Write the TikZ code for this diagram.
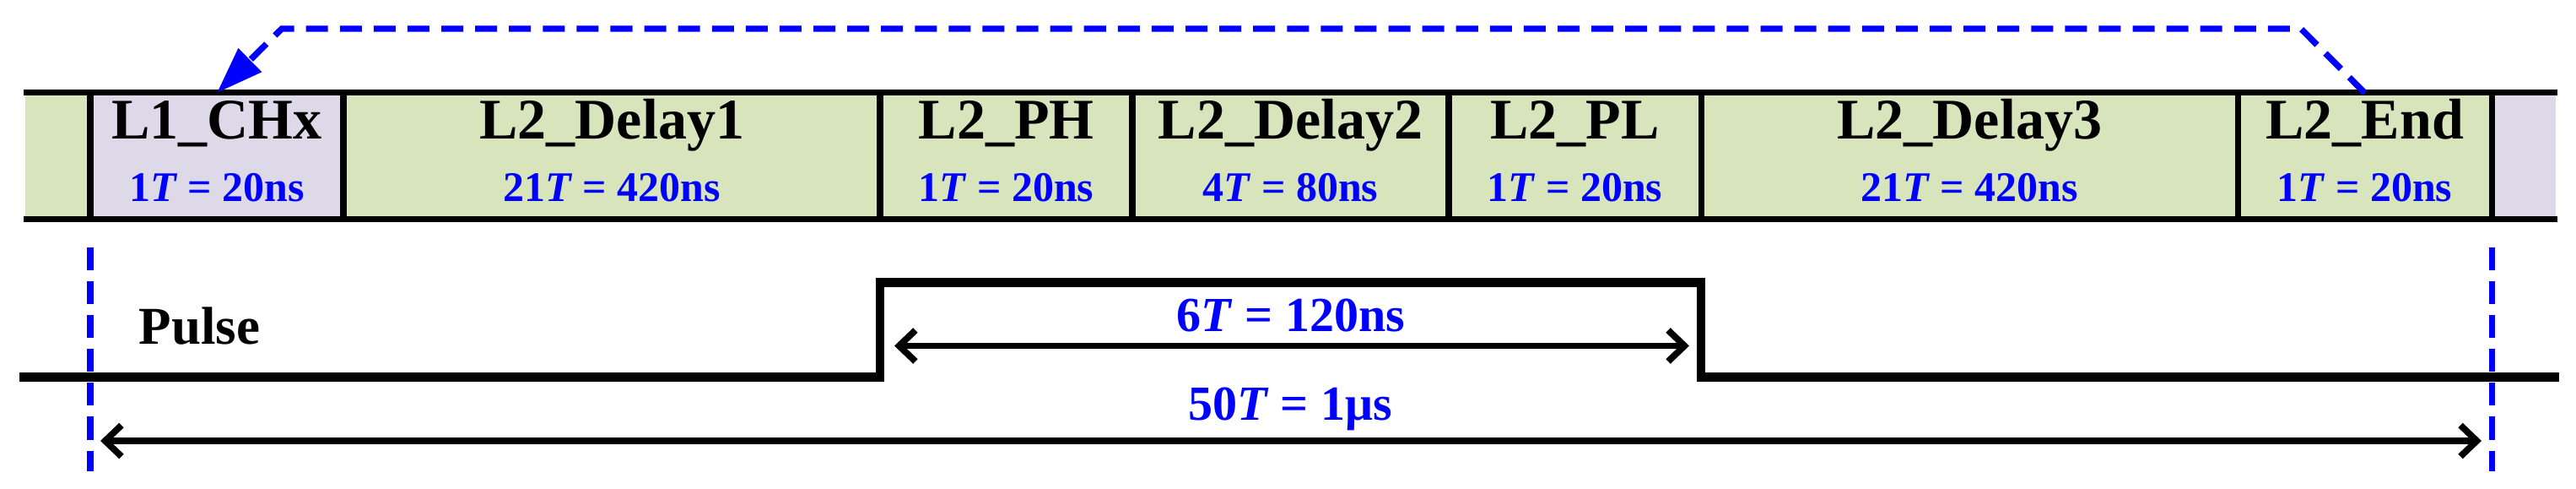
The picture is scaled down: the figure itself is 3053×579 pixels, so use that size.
\documentclass[tikz,border=0pt]{standalone}
\usepackage{fontspec}
\setmainfont{Liberation Serif}
\usetikzlibrary{arrows.meta,calc}
\definecolor{cellgreen}{RGB}{216,228,188}
\definecolor{celllav}{RGB}{221,217,232}
\definecolor{pureblue}{RGB}{0,0,255}
\tikzset{
 cell/.style={draw=none, inner sep=0pt, outer sep=0pt, minimum height=1.49cm, anchor=west},
 grn/.style={cell, fill=cellgreen},
 lav/.style={cell, fill=celllav},
 title/.style={anchor=base, inner sep=0pt, font=\fontsize{19.35}{20}\selectfont\bfseries},
 dur/.style={anchor=base, inner sep=0pt, text=pureblue, font=\fontsize{14.2}{15}\selectfont\bfseries},
 bigdur/.style={anchor=base, inner sep=0pt, text=pureblue, font=\fontsize{16.5}{17}\selectfont\bfseries},
 rail/.style={line width=2pt},
 divider/.style={line width=2pt},
 pulseline/.style={line width=3.1pt, line join=miter},
 dim/.style={line width=2.2pt, >={Straight Barb[length=5.5pt,width=10.5pt]}, <->},
 guide/.style={pureblue, line width=2.1pt, dash pattern=on 7.7pt off 3.7pt},
 loop/.style={pureblue, line width=2.1pt, dash pattern=on 7.4pt off 4pt, arrows={-Triangle[length=15.7pt,width=10.7pt]}},
}
\begin{document}
\begin{tikzpicture}[x=0.01cm,y=-0.01cm]
\useasboundingbox (0,0) rectangle (3053,579);
% cells
\node[grn, minimum width=0.77cm] (c0) at (30,184.5) {};
\node[lav, minimum width=3cm] (c1) at (107,184.5) {};
\node[grn, minimum width=6.36cm] (c2) at (407,184.5) {};
\node[grn, minimum width=2.99cm] (c3) at (1043,184.5) {};
\node[grn, minimum width=3.75cm] (c4) at (1342,184.5) {};
\node[grn, minimum width=2.99cm] (c5) at (1717,184.5) {};
\node[grn, minimum width=6.36cm] (c6) at (2016,184.5) {};
\node[grn, minimum width=3.01cm] (c7) at (2652,184.5) {};
\node[lav, minimum width=0.76cm] (c8) at (2953,184.5) {};
% rails
\draw[rail] ([xshift=-0.02cm]c0.north west) -- ([xshift=0.02cm]c8.north east);
\draw[rail] ([xshift=-0.02cm]c0.south west) -- ([xshift=0.02cm]c8.south east);
% dividers
\foreach \c in {c1,c2,c3,c4,c5,c6,c7,c8}
  \draw[divider] (\c.north west) -- (\c.south west);
% labels
\node[title] (t1) at (c1 |- 0,165) {L1\_CHx};
\node[dur]   (d1) at (c1 |- 0,239) {1\textit{T} = 20ns};
\node[title] (t2) at (c2 |- 0,165) {L2\_Delay1};
\node[dur]   (d2) at (c2 |- 0,239) {21\textit{T} = 420ns};
\node[title] (t3) at (c3 |- 0,165) {L2\_PH};
\node[dur]   (d3) at (c3 |- 0,239) {1\textit{T} = 20ns};
\node[title] (t4) at (c4 |- 0,165) {L2\_Delay2};
\node[dur]   (d4) at (c4 |- 0,239) {4\textit{T} = 80ns};
\node[title] (t5) at (c5 |- 0,165) {L2\_PL};
\node[dur]   (d5) at (c5 |- 0,239) {1\textit{T} = 20ns};
\node[title] (t6) at (c6 |- 0,165) {L2\_Delay3};
\node[dur]   (d6) at (c6 |- 0,239) {21\textit{T} = 420ns};
\node[title] (t7) at (c7 |- 0,165) {L2\_End};
\node[dur]   (d7) at (c7 |- 0,239) {1\textit{T} = 20ns};
% loop-back arrow
\coordinate (lr) at (2727,34);
\coordinate (ll) at (334,34);
\draw[loop] (c7.north) -- (lr) -- (ll) -- (c1.north);
% guides
\draw[guide] (c1.west |- 0,293) -- (c1.west |- 0,558);
\draw[guide] (c7.east |- 0,293) -- (c7.east |- 0,558);
% pulse
\node[anchor=base west, inner sep=0pt, font=\fontsize{17.9}{18}\selectfont\bfseries] (pl) at (164,407) {Pulse};
\coordinate (p0) at (23,446.5);
\coordinate (p5) at (3033,446.5);
\draw[pulseline] (p0) -- (c3.west |- p0) -- (c3.west |- 0,334.5) -- (c6.west |- 0,334.5) -- (c6.west |- p0) -- (p5);
% dimensions
\coordinate (a6l) at (1060,409.5);
\coordinate (a6r) at (2002,409.5);
\draw[dim] (a6l) -- (a6r);
\node[bigdur] (l6) at (1530,393) {6\textit{T} = 120ns};
\coordinate (a50l) at (119,522);
\coordinate (a50r) at (2941,522);
\draw[dim] (a50l) -- (a50r);
\node[bigdur] (l50) at (1529,497) {50\textit{T} = 1μs};
\end{tikzpicture}
\end{document}
